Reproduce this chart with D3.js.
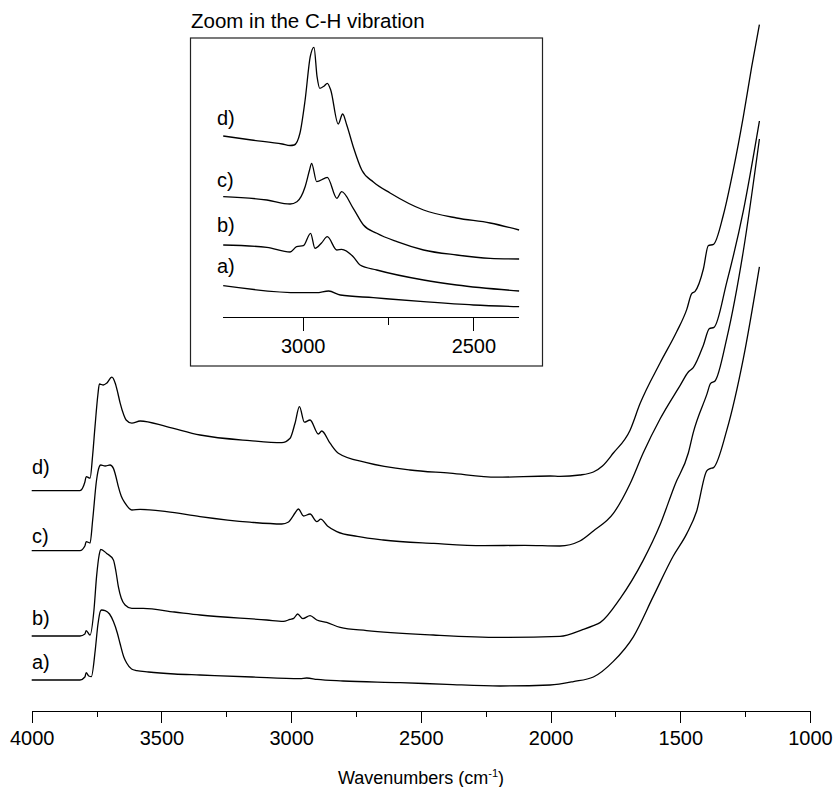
<!doctype html>
<html>
<head>
    <meta charset="utf-8">
    <title>IR spectra</title>
    <script src="https://d3js.org/d3.v7.min.js"></script>
    <style>
        body { margin: 0; background: #fff; }
        .axis path, .axis line { fill: none; stroke: black; shape-rendering: crispEdges; }
        .axis text { font-family: Arial, "Liberation Sans", sans-serif; font-size: 20px; fill: black; }
        .spectrum { fill: none; stroke: black; stroke-width: 1.3; }
        .lbl { font-family: Arial, "Liberation Sans", sans-serif; font-size: 20px; }
    </style>
</head>
<body>
<div id="forChart"></div>
<script>

// main spectra: wavenumber (cm-1) and absorbance (offset, a.u.)
const waveA = [4000,3814,3795,3790,3780,3770,3755,3745,3735,3730,3717,3700,3685,3670,3660,3645,3634,3615,3595,3550,3450,3351,3150,2966,2940,2900,2800,2580,2400,2195,2002,1912,1835,1758,1681,1604,1527,1475,1437,1398,1385,1372,1321,1257,1195];
const absA  = [0.05,0.05,0.065,0.087,0.07,0.067,0.2,0.325,0.395,0.4,0.397,0.38,0.342,0.285,0.235,0.165,0.135,0.105,0.097,0.09,0.08,0.075,0.065,0.057,0.06,0.053,0.045,0.037,0.028,0.02,0.025,0.042,0.065,0.143,0.266,0.468,0.67,0.782,0.894,1.096,1.107,1.112,1.298,1.657,2.116];

const waveB = [4000,3814,3795,3790,3775,3760,3750,3740,3734,3711,3685,3675,3666,3655,3640,3614,3570,3450,3351,3094,3030,3004,2990,2975,2955,2927,2901,2863,2811,2709,2452,2195,1964,1874,1835,1808,1732,1643,1578,1520,1469,1450,1398,1383,1366,1321,1257,1195];
const absB  = [0.27,0.27,0.28,0.297,0.275,0.4,0.567,0.675,0.703,0.683,0.65,0.59,0.517,0.46,0.425,0.408,0.408,0.39,0.375,0.35,0.343,0.353,0.358,0.38,0.357,0.372,0.35,0.338,0.313,0.297,0.275,0.263,0.268,0.303,0.322,0.338,0.457,0.648,0.826,1.028,1.185,1.287,1.477,1.533,1.545,1.757,2.195,2.755];

const waveC = [4000,3814,3795,3790,3775,3765,3750,3740,3734,3717,3698,3685,3675,3666,3655,3640,3614,3582,3480,3351,3159,3036,3010,2998,2985,2972,2952,2927,2901,2886,2860,2824,2745,2645,2450,2259,2100,1964,1887,1835,1758,1694,1643,1578,1501,1469,1450,1411,1388,1370,1321,1257,1195];
const absC  = [0.697,0.697,0.72,0.742,0.735,0.85,1.05,1.115,1.125,1.12,1.125,1.108,1.065,1.017,0.97,0.934,0.9,0.903,0.892,0.867,0.839,0.83,0.84,0.859,0.885,0.905,0.87,0.88,0.842,0.854,0.82,0.792,0.768,0.75,0.733,0.722,0.723,0.72,0.745,0.795,0.883,1.03,1.185,1.355,1.522,1.59,1.612,1.724,1.807,1.813,2.038,2.396,2.845];

const waveD = [4000,3814,3795,3790,3775,3765,3756,3745,3739,3724,3711,3691,3678,3668,3659,3645,3636,3614,3582,3480,3351,3159,3036,3004,2985,2968,2949,2927,2895,2882,2850,2818,2709,2542,2388,2208,2002,1964,1887,1835,1800,1758,1694,1655,1578,1514,1475,1456,1443,1411,1392,1372,1334,1296,1257,1225,1195];
const absD  = [0.997,0.997,1.04,1.067,1.059,1.175,1.317,1.475,1.53,1.525,1.534,1.564,1.534,1.485,1.434,1.375,1.35,1.334,1.345,1.317,1.275,1.247,1.237,1.259,1.334,1.417,1.339,1.35,1.28,1.295,1.234,1.184,1.137,1.1,1.084,1.064,1.07,1.068,1.075,1.09,1.12,1.185,1.298,1.432,1.635,1.791,1.903,1.982,1.993,2.105,2.222,2.228,2.375,2.598,2.867,3.114,3.327];

// inset (C-H region)
const zWaveA = [3233,3008,2960,2924,2890,2793,2646,2500,2366];
const zAbsA  = [0.343,0.273,0.273,0.29,0.25,0.223,0.183,0.15,0.133];

const zWaveB = [3233,3105,3037,3018,2998,2977,2964,2945,2928,2900,2886,2852,2832,2783,2646,2549,2366];
const zAbsB  = [0.75,0.727,0.68,0.733,0.743,0.867,0.717,0.77,0.833,0.7,0.707,0.633,0.55,0.5,0.4,0.35,0.29];

const zWaveC = [3233,3105,3037,3017,2993,2980,2974,2959,2936,2928,2900,2886,2852,2822,2783,2724,2646,2549,2451,2366];
const zAbsC  = [1.233,1.2,1.16,1.183,1.333,1.5,1.567,1.383,1.417,1.427,1.217,1.283,1.117,0.95,0.867,0.783,0.7,0.65,0.617,0.61];

const zWaveD = [3233,3150,3060,3037,3025,3008,2993,2978,2967,2958,2950,2937,2928,2918,2896,2883,2871,2852,2827,2793,2744,2646,2549,2451,2366];
const zAbsD  = [1.84,1.8,1.76,1.745,1.75,1.87,2.2,2.633,2.727,2.433,2.317,2.34,2.367,2.3,1.96,2.06,1.95,1.733,1.5,1.38,1.27,1.1,1.02,0.97,0.9];

const seriesNames = ["a)", "b)", "c)", "d)"];
const mainTicks = [4000,3750,3500,3250,3000,2750,2500,2250,2000,1750,1500,1250,1000];
const insetTicks = [3000,2750,2500];

const w = 836;
const h = 787;

const svg = d3.select("#forChart")
    .append("svg")
    .attr("width", w)
    .attr("height", h);

const zip = (xs, ys) => xs.map((x, i) => [x, ys[i]]);

// ---- main chart ----
const xScale = d3.scaleLinear().domain([4000, 1000]).range([31.7, 810]);
const yScale = d3.scaleLinear().domain([0, 3.4]).range([690, 10]);

const line = d3.line()
    .x(d => xScale(d[0]))
    .y(d => yScale(d[1]))
    .curve(d3.curveMonotoneX);

const mainData = [zip(waveA, absA), zip(waveB, absB), zip(waveC, absC), zip(waveD, absD)];

svg.selectAll("path.main")
    .data(mainData)
    .enter()
    .append("path")
    .attr("class", "spectrum main")
    .attr("d", line);

const xAxis = d3.axisBottom(xScale)
    .tickValues(mainTicks)
    .tickSizeOuter(0)
    .tickFormat(d => d % 500 === 0 ? d : "");

const gx = svg.append("g")
    .attr("class", "axis")
    .attr("transform", "translate(0,711)")
    .call(xAxis);
gx.selectAll(".tick line").attr("y2", d => d % 500 === 0 ? 12 : 6);
gx.selectAll(".tick text").attr("y", 20);

const xTitle = svg.append("text")
    .attr("class", "lbl")
    .attr("x", 421)
    .attr("y", 784)
    .attr("text-anchor", "middle")
    .style("font-size", "18px");
xTitle.append("tspan").text("Wavenumbers (cm");
xTitle.append("tspan").attr("dy", -7).style("font-size", "11px").text("-1");
xTitle.append("tspan").attr("dy", 7).text(")");

// series labels, placed at the start of each trace
const labelBase = [669, 625, 543, 474];
svg.selectAll("text.slab")
    .data(seriesNames)
    .enter()
    .append("text")
    .attr("class", "lbl slab")
    .attr("x", 32)
    .attr("y", (d, i) => labelBase[i])
    .text(d => d);

// ---- inset ----
const box = { x: 190.5, y: 38, w: 352, h: 328 };

svg.append("rect")
    .attr("x", box.x)
    .attr("y", box.y)
    .attr("width", box.w)
    .attr("height", box.h)
    .attr("fill", "white")
    .attr("stroke", "#222")
    .attr("stroke-width", 1.2);

svg.append("text")
    .attr("class", "lbl")
    .attr("x", 191)
    .attr("y", 28)
    .style("font-size", "20.5px")
    .text("Zoom in the C-H vibration");

const zx = d3.scaleLinear().domain([3250, 2250]).range([217.4, 558.7]);
const zy = d3.scaleLinear().domain([0, 3]).range([320, 20]);

const zline = d3.line()
    .x(d => zx(d[0]))
    .y(d => zy(d[1]))
    .curve(d3.curveMonotoneX);

const insetData = [zip(zWaveA, zAbsA), zip(zWaveB, zAbsB), zip(zWaveC, zAbsC), zip(zWaveD, zAbsD)];

svg.selectAll("path.inset")
    .data(insetData)
    .enter()
    .append("path")
    .attr("class", "spectrum inset")
    .attr("d", zline);

const zAxis = d3.axisBottom(zx)
    .tickValues(insetTicks)
    .tickSizeOuter(0)
    .tickFormat(d => d % 500 === 0 ? d : "");

const gz = svg.append("g")
    .attr("class", "axis")
    .attr("transform", "translate(0,317)")
    .call(zAxis);
gz.select(".domain").remove();
gz.append("line")
    .attr("x1", zx(d3.max(zWaveA)))
    .attr("x2", zx(d3.min(zWaveA)))
    .attr("stroke", "black");
gz.selectAll(".tick line").attr("y2", d => d % 500 === 0 ? 14 : 8);
gz.selectAll(".tick text").attr("y", 22);

const zLabelBase = [273, 232, 187, 125];
svg.selectAll("text.zlab")
    .data(seriesNames)
    .enter()
    .append("text")
    .attr("class", "lbl zlab")
    .attr("x", 217)
    .attr("y", (d, i) => zLabelBase[i])
    .text(d => d);

</script>
</body>
</html>
